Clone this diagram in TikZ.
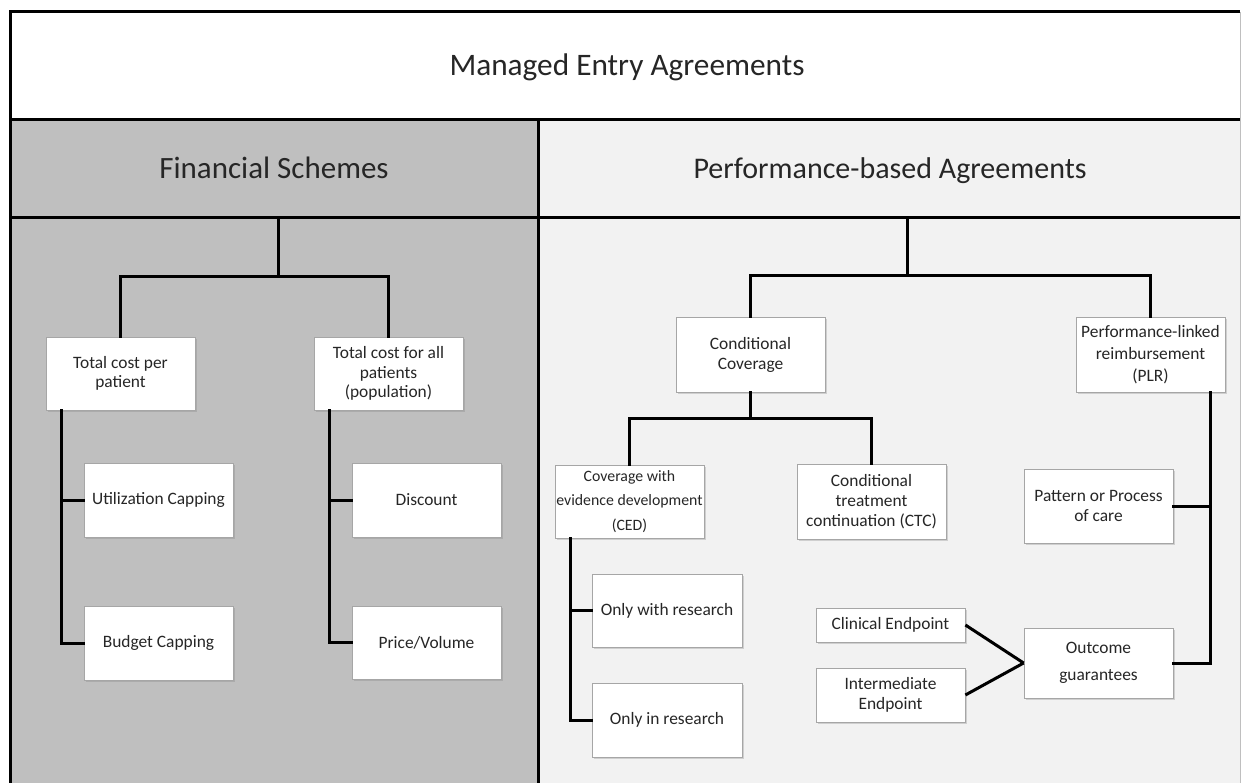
\documentclass[tikz,border=0pt]{standalone}
\usepackage{fontspec}
\setmainfont{Carlito}
\usetikzlibrary{shadows}
\definecolor{fingray}{HTML}{BFBFBF}
\definecolor{perfgray}{HTML}{F2F2F2}
\definecolor{boxline}{HTML}{A6A6A6}
\definecolor{txt}{HTML}{262626}
\tikzset{
  frameline/.style={line width=3pt, black},
  conn/.style={line width=3pt, black, line cap=rect},
  box/.style={rectangle, draw=boxline, line width=0.8pt, fill=white, inner sep=0pt,
    minimum width=149pt, minimum height=74pt, align=center, text=txt,
    font={\fontsize{17.4}{19.5}\selectfont},
    drop shadow={opacity=0.3, shadow xshift=1.5pt, shadow yshift=-2pt}},
  head/.style={text=txt, anchor=base, inner sep=0pt, font={\fontsize{30}{36}\selectfont}}
}
\begin{document}
\begin{tikzpicture}[x=1pt,y=-1pt]
\useasboundingbox (0,0) rectangle (1242,783);
% panels
\fill[white] (10,12) rectangle (1240,120);
\fill[fingray] (10,120) rectangle (538,783);
\fill[perfgray] (538,120) rectangle (1240,783);
\draw[fingray, line width=1pt] (1240,12) -- (1240,783);
\draw[frameline] (10,12) -- (1240,12);
\draw[frameline] (10,120) -- (1240,120);
\draw[frameline] (10,218) -- (1240,218);
\draw[frameline] (10,10.5) -- (10,783);
\draw[frameline] (538,120) -- (538,783);
% headings
\node[head, font={\fontsize{31.3}{36}\selectfont}] (title) at (627,76) {Managed Entry Agreements};
\node[head, font={\fontsize{31}{36}\selectfont}] (fin) at (274,179) {Financial Schemes};
\node[head] (perf) at (890,179) {Performance-based Agreements};
\coordinate (finroot) at (278,219.5);
\coordinate (finjoin) at (278,277);
\coordinate (perfroot) at (907,219.5);
\coordinate (perfjoin) at (907,276);
% financial boxes
\node[box, minimum height=73pt] (tcpp) at (120.5,373.5) {Total cost per\\patient};
\node[box, minimum height=73pt] (tcap) at (388.5,373.5) {Total cost for all\\patients\\(population)};
\node[box] (util) at (158.5,500) {Utilization Capping};
\node[box] (disc) at (426.5,500) {Discount};
\node[box] (budg) at (158.5,643) {Budget Capping};
\node[box, minimum height=73pt] (price) at (426.5,642.5) {Price/Volume};
% performance boxes
\node[box, minimum height=75pt, font={\fontsize{17.4}{20}\selectfont}] (cc) at (750.5,354.5) {Conditional\\Coverage};
\node[box, minimum height=75pt, font={\fontsize{17.4}{22}\selectfont}] (plr) at (1150.5,354.5) {Performance-linked\\reimbursement\\(PLR)};
\node[box, minimum height=73pt, font={\fontsize{15.8}{24.5}\selectfont}] (ced) at (629.5,501.5) {Coverage with\\evidence development\\(CED)};
\node[box, minimum height=75pt, font={\fontsize{17.4}{20}\selectfont}] (ctc) at (871.5,501.5) {Conditional\\treatment\\continuation (CTC)};
\node[box] (patt) at (1098.5,506) {Pattern or Process\\of care};
\node[box, minimum width=150pt, minimum height=73pt] (owr) at (667,610.5) {Only with research};
\node[box, minimum width=150pt] (oir) at (667,720) {Only in research};
\node[box, minimum height=34pt] (clin) at (890.5,625) {Clinical Endpoint};
\node[box, minimum height=54pt, font={\fontsize{17.4}{20}\selectfont}] (inter) at (890.5,695) {Intermediate\\Endpoint};
\node[box, minimum height=70pt, font={\fontsize{17.4}{27}\selectfont}] (outc) at (1098.5,663) {Outcome\\guarantees};
% connectors: financial
\draw[conn] (finroot) -- (finjoin);
\draw[conn] (tcpp.north) |- (finjoin) -| (tcap.north);
\coordinate (tl) at ([xshift=-59.5pt]tcpp.south);
\coordinate (tr) at ([xshift=-59.5pt]tcap.south);
\draw[conn] (tl) |- (budg.west);
\draw[conn] (tl |- util.west) -- (util.west);
\draw[conn] (tr) |- (price.west);
\draw[conn] (tr |- disc.west) -- (disc.west);
% connectors: performance
\draw[conn] (perfroot) -- (perfjoin);
\draw[conn] (cc.north) |- (perfjoin) -| (plr.north);
\coordinate (ccjoin) at (750.5,418);
\draw[conn] (cc.south) -- (ccjoin);
\draw[conn] (ced.north) |- (ccjoin) -| (ctc.north);
\coordinate (cl) at ([xshift=-59.5pt]ced.south);
\draw[conn] (cl) |- (oir.west);
\draw[conn] (cl |- owr.west) -- (owr.west);
\coordinate (pr) at ([xshift=59.5pt]plr.south);
\draw[conn] (pr) |- (outc.east);
\draw[conn] (pr |- patt.east) -- (patt.east);
\draw[conn, line cap=butt] (clin.east) -- (outc.west);
\draw[conn, line cap=butt] (inter.east) -- (outc.west);
\end{tikzpicture}
\end{document}
